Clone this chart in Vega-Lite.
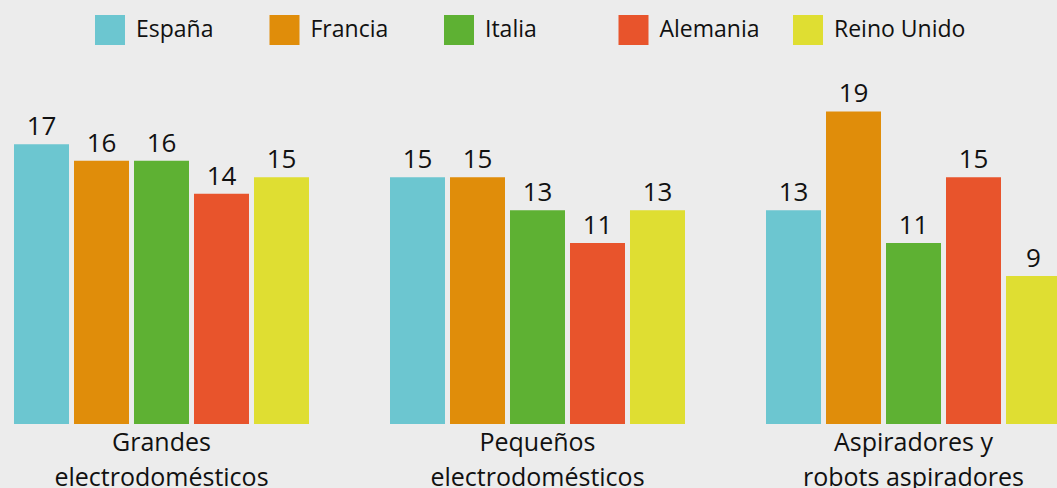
{
  "$schema": "https://vega.github.io/schema/vega-lite/v6.json",
  "autosize": {"type": "none"},
  "padding": {"left": 0, "top": 95, "right": 0, "bottom": 64},
  "width": 1075,
  "height": 329,
  "background": "#ececec",
  "config": {
    "view": {"stroke": null},
    "font": "Open Sans"
  },
  "data": {
    "values": [
      {"categoria": "Grandes electrodomésticos", "pais": "España", "valor": 17},
      {"categoria": "Grandes electrodomésticos", "pais": "Francia", "valor": 16},
      {"categoria": "Grandes electrodomésticos", "pais": "Italia", "valor": 16},
      {"categoria": "Grandes electrodomésticos", "pais": "Alemania", "valor": 14},
      {"categoria": "Grandes electrodomésticos", "pais": "Reino Unido", "valor": 15},
      {"categoria": "Pequeños electrodomésticos", "pais": "España", "valor": 15},
      {"categoria": "Pequeños electrodomésticos", "pais": "Francia", "valor": 15},
      {"categoria": "Pequeños electrodomésticos", "pais": "Italia", "valor": 13},
      {"categoria": "Pequeños electrodomésticos", "pais": "Alemania", "valor": 11},
      {"categoria": "Pequeños electrodomésticos", "pais": "Reino Unido", "valor": 13},
      {"categoria": "Aspiradores y robots aspiradores", "pais": "España", "valor": 13},
      {"categoria": "Aspiradores y robots aspiradores", "pais": "Francia", "valor": 19},
      {"categoria": "Aspiradores y robots aspiradores", "pais": "Italia", "valor": 11},
      {"categoria": "Aspiradores y robots aspiradores", "pais": "Alemania", "valor": 15},
      {"categoria": "Aspiradores y robots aspiradores", "pais": "Reino Unido", "valor": 9}
    ]
  },
  "encoding": {
    "x": {
      "field": "categoria",
      "type": "nominal",
      "sort": ["Grandes electrodomésticos", "Pequeños electrodomésticos", "Aspiradores y robots aspiradores"],
      "scale": {"paddingInner": 0.21543, "paddingOuter": 0.03723},
      "axis": {
        "title": null,
        "domain": false,
        "ticks": false,
        "labelAngle": 0,
        "labelFont": "Open Sans",
        "labelFontSize": 25,
        "labelColor": "#111111",
        "labelPadding": 6,
        "labelLineHeight": 35,
        "labelBaseline": "top",
        "labelLimit": 400,
        "labelExpr": "datum.value == 'Aspiradores y robots aspiradores' ? ['Aspiradores y', 'robots aspiradores'] : split(datum.value, ' ')"
      }
    },
    "xOffset": {
      "field": "pais",
      "type": "nominal",
      "sort": ["España", "Francia", "Italia", "Alemania", "Reino Unido"],
      "scale": {"paddingInner": 0.08333, "paddingOuter": 0}
    },
    "y": {
      "field": "valor",
      "type": "quantitative",
      "scale": {"domain": [0, 20], "nice": false},
      "axis": null
    }
  },
  "layer": [
    {
      "mark": {"type": "bar"},
      "encoding": {
        "color": {
          "field": "pais",
          "type": "nominal",
          "scale": {
            "domain": ["España", "Francia", "Italia", "Alemania", "Reino Unido"],
            "range": ["#6cc6d0", "#e08d0a", "#5eb133", "#e8542c", "#dfde32"]
          },
          "legend": {
            "title": null,
            "orient": "none",
            "legendX": 95,
            "legendY": -80,
            "direction": "horizontal",
            "columns": 5,
            "gridAlign": "all",
            "columnPadding": 1.5,
            "symbolType": "square",
            "symbolSize": 900,
            "symbolStrokeWidth": 0,
            "symbolOpacity": 1,
            "labelOffset": 11,
            "labelFont": "Open Sans",
            "labelFontSize": 23,
            "labelColor": "#111111",
            "labelLimit": 300
          }
        }
      }
    },
    {
      "mark": {"type": "text", "baseline": "alphabetic", "dy": -9, "font": "Open Sans", "fontSize": 26, "color": "#111111"},
      "encoding": {
        "text": {"field": "valor", "type": "quantitative"}
      }
    }
  ]
}
